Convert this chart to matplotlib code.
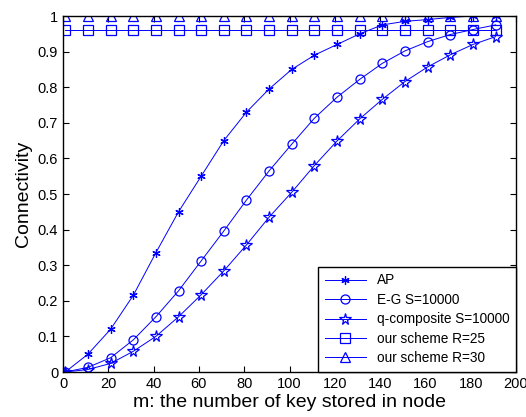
import numpy as np
import matplotlib
matplotlib.use('Agg')
from matplotlib import pyplot as plt

plt.rcParams['font.family'] = ['Liberation Sans', 'DejaVu Sans']

# key counts m (MATLAB style 1:10:191)
m = list(range(1, 192, 10))

ap = [0.0, 0.05, 0.12, 0.215, 0.335, 0.45, 0.55, 0.65, 0.73, 0.795,
      0.85, 0.89, 0.92, 0.95, 0.975, 0.985, 0.99, 0.996, 1.0, 1.0]
eg = [0.0, 0.013, 0.04, 0.09, 0.155, 0.228, 0.312, 0.396, 0.483, 0.565,
      0.64, 0.713, 0.772, 0.822, 0.867, 0.902, 0.928, 0.948, 0.962, 0.975]
qc = [0.0, 0.007, 0.024, 0.058, 0.1, 0.155, 0.217, 0.284, 0.357, 0.435,
      0.505, 0.58, 0.649, 0.711, 0.766, 0.816, 0.857, 0.891, 0.92, 0.942]
r25 = [0.96] * len(m)
r30 = [1.0] * len(m)

labels = ['AP', 'E-G S=10000', 'q-composite S=10000',
          'our scheme R=25', 'our scheme R=30']
markers = [(6, 2, 0), 'o', '*', 's', '^']
msizes = [6, 6.5, 8.5, 6.5, 7.5]

fig = plt.figure(figsize=(5.26, 4.17), dpi=100)
ax = fig.add_axes([63 / 526, 1 - 372 / 417, 453 / 526, 356 / 417])

series = [ap, eg, qc, r25, r30]
for i, ys in enumerate(series):
    ax.plot(m, ys, color='blue', lw=0.7, marker=markers[i], mfc='none',
            mec='blue', markersize=msizes[i], mew=0.9, label=labels[i])

ax.set_xlim(0, 200)
ax.set_ylim(0, 1)
ax.set_xticks(np.arange(0, 201, 20))
ax.set_yticks(np.arange(0, 1.01, 0.1))
ax.set_yticklabels(['0', '0.1', '0.2', '0.3', '0.4', '0.5', '0.6', '0.7', '0.8', '0.9', '1'])
ax.tick_params(direction='in', labelsize=10.5, top=True, right=True, length=4)
for s in ax.spines.values():
    s.set_linewidth(1.0)

ax.set_xlabel('m: the number of key stored in node', fontsize=14, labelpad=2)
ax.set_ylabel('Connectivity', fontsize=14, labelpad=4)

leg = ax.legend(loc='lower right', fontsize=9.8, handlelength=3.0,
                fancybox=False, edgecolor='black', framealpha=1,
                borderaxespad=0, labelspacing=0.4, borderpad=0.5)
leg.get_frame().set_linewidth(1.0)

fig.savefig('out.png', dpi=100)
